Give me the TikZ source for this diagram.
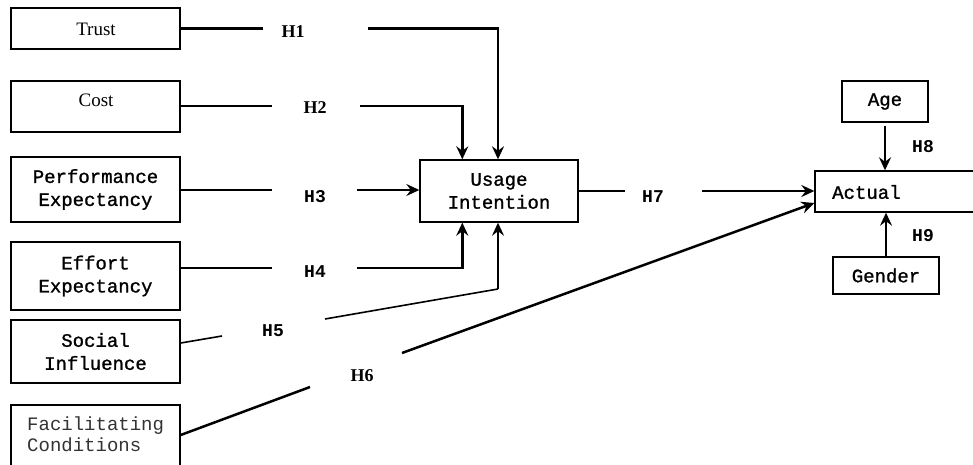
\documentclass[tikz,border=0pt]{standalone}
\usepackage{fontspec}
\setmainfont{Liberation Serif}
\newfontfamily\monofam{Liberation Mono}
\newfontfamily\monomed[FakeBold=1.2]{Liberation Mono}
\usetikzlibrary{arrows.meta}
\begin{document}
\begin{tikzpicture}[x=1pt,y=-1pt,
  box/.style={draw, line width=1.4pt, inner sep=0pt, align=center},
  mtext/.style={font=\monomed\fontsize{19}{23}\selectfont},
  stext/.style={font=\fontsize{19}{23}\selectfont},
  conn/.style={line width=2.5pt},
  arr/.style={line width=2.5pt, -{Stealth[length=13pt,width=12pt,inset=4.5pt]}},
  hser/.style={font=\bfseries\fontsize{18}{20}\selectfont},
  hmono/.style={font=\monofam\bfseries\fontsize{18}{20}\selectfont}]
\clip (0,0) rectangle (973,465);
\fill[white] (0,0) rectangle (973,465);

% boxes
\node[box, minimum width=169pt, minimum height=41pt] (trust) at (95.5,28.5) {};
\node[stext] (trusttxt) at (96,29) {Trust};
\node[box, minimum width=169pt, minimum height=51pt] (cost) at (95.5,106.5) {};
\node[stext] (costtxt) at (96,100) {Cost};
\node[box, mtext, minimum width=169pt, minimum height=65pt] (perf) at (95.5,189.5) {Performance\\Expectancy};
\node[box, mtext, minimum width=169pt, minimum height=68pt] (effort) at (95.5,276) {Effort\\Expectancy};
\node[box, mtext, minimum width=169pt, minimum height=63pt] (social) at (95.5,351.5) {Social\\Influence};
\node[box, minimum width=169pt, minimum height=75pt] (facil) at (95.5,442.5) {};
\node[font=\monofam\fontsize{19}{21}\selectfont, text=black!80, align=left, anchor=north west, inner sep=0pt] (faciltxt) at (27,417) {Facilitating\\Conditions};
\node[box, mtext, minimum width=158pt, minimum height=62pt] (usage) at (499,191) {Usage\\Intention};
\node[box, minimum width=175pt, minimum height=41pt] (actual) at (902.5,191.5) {};
\node[mtext, anchor=west, inner sep=0pt] (actualtxt) at (832,192) {Actual};
\node[box, mtext, minimum width=86pt, minimum height=41pt] (age) at (885,101.5) {Age};
\node[box, mtext, minimum width=106pt, minimum height=37pt] (gender) at (886,275.5) {Gender};

% gap coordinates
\coordinate (h1a) at (263,28.5);
\coordinate (h1b) at (368,28.5);
\coordinate (h2a) at (272,106);
\coordinate (h2b) at (360,106);
\coordinate (h3a) at (272,190);
\coordinate (h3b) at (357,190);
\coordinate (h4a) at (272,268);
\coordinate (h4b) at (357,268);
\coordinate (h5a) at (222,336);
\coordinate (h5b) at (325,319);
\coordinate (h5c) at (498,289);
\coordinate (h6a) at (310,387);
\coordinate (h6b) at (402,353);
\coordinate (h7a) at (625,191);
\coordinate (h7b) at (702,191);

% connectors
\draw[conn] (trust.east) -- (h1a);
\draw[arr] (h1b) -| ([xshift=-1pt]usage.north);
\draw[conn] (cost.east |- h2a) -- (h2a);
\draw[arr] (h2b) -| ([xshift=43pt]usage.north west);
\draw[conn] (perf.east |- h3a) -- (h3a);
\draw[arr] (h3b) -- (usage.west |- h3b);
\draw[conn] (effort.east |- h4a) -- (h4a);
\draw[arr] (h4b) -| ([xshift=43pt]usage.south west);
\draw[line width=1.6pt] ([yshift=8.5pt]social.east) -- (h5a);
\draw[line width=1.6pt] (h5b) -- (h5c);
\draw[arr, line width=2pt] (h5c) -- (h5c |- usage.south);
\draw[conn] ([yshift=7.5pt]facil.east) -- (h6a);
\draw[arr] (h6b) -- ([yshift=-11.5pt]actual.west);
\draw[conn] (usage.east) -- (h7a);
\draw[arr] (h7b) -- (actual.west |- h7b);
\draw[arr, shorten <=3pt] (age.south) -- (age.south |- actual.north);
\draw[arr] (gender.north) -- (gender.north |- actual.south);

% labels
\node[hser] (H1) at (293,32) {H1};
\node[hser] (H2) at (315,108) {H2};
\node[hmono] (H3) at (315,197) {H3};
\node[hmono] (H4) at (315,272) {H4};
\node[hmono] (H5) at (273,331) {H5};
\node[hser] (H6) at (362,376) {H6};
\node[hmono] (H7) at (653,197) {H7};
\node[hmono] (H8) at (923,147) {H8};
\node[hmono] (H9) at (923,236) {H9};
\end{tikzpicture}
\end{document}
